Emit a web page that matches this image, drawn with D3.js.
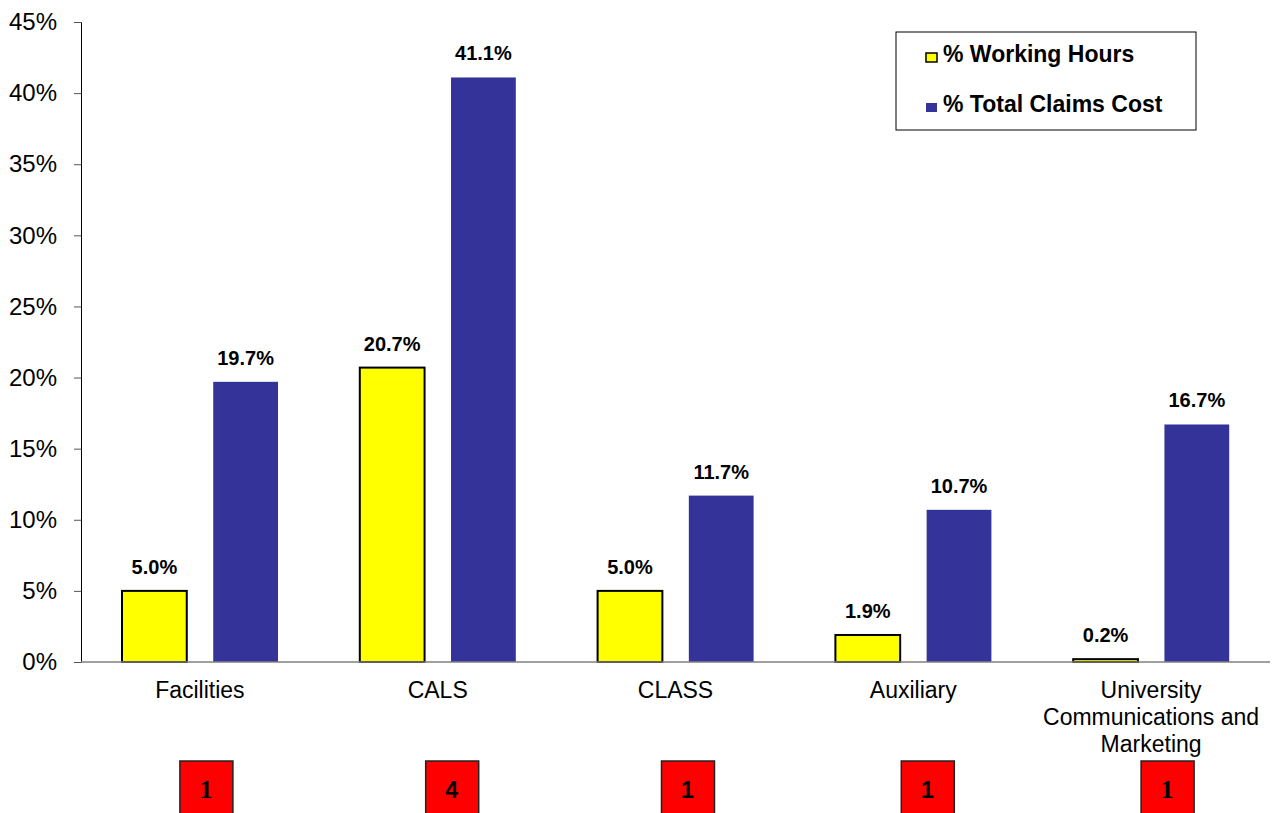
<!DOCTYPE html>
<html>
<head>
<meta charset="utf-8">
<script src="https://cdn.jsdelivr.net/npm/d3@7"></script>
<style>
  body { margin: 0; background: #fff; }
  svg { display: block; font-family: "Liberation Sans", Arial, sans-serif; }
</style>
</head>
<body>
<svg id="chart" width="1273" height="813"></svg>
<script>
// Departments and their shares
const categories = ["Facilities", "CALS", "CLASS", "Auxiliary", "University Communications and Marketing"];
const categoryLines = [["Facilities"], ["CALS"], ["CLASS"], ["Auxiliary"], ["University", "Communications and", "Marketing"]];
const workingHours = [5.0, 20.7, 5.0, 1.9, 0.2];
const claimsCost = [19.7, 41.1, 11.7, 10.7, 16.7];
const claimCounts = ["1", "4", "1", "1", "1"];
const countFonts = ["serif", "sans", "sans", "sans", "serif"];
const seriesNames = ["% Working Hours", "% Total Claims Cost"];
const yTicks = [0, 5, 10, 15, 20, 25, 30, 35, 40, 45];

const svg = d3.select("#chart");
const plotLeft = 81, plotRight = 1270, plotTop = 22, plotBottom = 662;

const x = d3.scaleBand().domain(categories).range([plotLeft, plotRight]);
const y = d3.scaleLinear().domain([0, 45]).range([plotBottom, plotTop]);
const inner = d3.scaleBand().domain([0, 1])
  .range([41, 197]).paddingInner(0.29);

// Y axis
const yAxis = d3.axisLeft(y).tickValues(yTicks).tickFormat(d => d + "%").tickSizeOuter(0).tickSize(7);
const yg = svg.append("g").attr("transform", `translate(${plotLeft},0)`).call(yAxis);
yg.select(".domain").attr("stroke", "#000").attr("stroke-width", 1);
yg.selectAll(".tick line").attr("stroke", "#555");
yg.selectAll(".tick text").attr("font-size", 24).attr("fill", "#000").attr("x", -24)
  .attr("font-family", "Liberation Sans, Arial, sans-serif");

// Bars
const groups = svg.append("g").selectAll("g").data(categories).join("g")
  .attr("transform", d => `translate(${x(d)},0)`);

groups.append("rect")
  .attr("x", inner(0))
  .attr("width", inner.bandwidth())
  .attr("y", (d, i) => y(workingHours[i]))
  .attr("height", (d, i) => y(0) - y(workingHours[i]))
  .attr("fill", "#ffff00").attr("stroke", "#000").attr("stroke-width", 2);

groups.append("rect")
  .attr("x", inner(1))
  .attr("width", inner.bandwidth())
  .attr("y", (d, i) => y(claimsCost[i]))
  .attr("height", (d, i) => y(0) - y(claimsCost[i]))
  .attr("fill", "#333399");

// Value labels
groups.append("text")
  .attr("x", inner(0) + inner.bandwidth() / 2)
  .attr("y", (d, i) => y(workingHours[i]) - 17)
  .attr("text-anchor", "middle").attr("font-size", 20).attr("font-weight", "bold")
  .text((d, i) => workingHours[i].toFixed(1) + "%");

groups.append("text")
  .attr("x", inner(1) + inner.bandwidth() / 2)
  .attr("y", (d, i) => y(claimsCost[i]) - 17)
  .attr("text-anchor", "middle").attr("font-size", 20).attr("font-weight", "bold")
  .text((d, i) => claimsCost[i].toFixed(1) + "%");

// X axis baseline
svg.append("line").attr("x1", plotLeft).attr("x2", plotRight).attr("y1", y(0)).attr("y2", y(0))
  .attr("stroke", "#808080").attr("stroke-width", 1.5);

// Category labels
groups.append("text")
  .attr("text-anchor", "middle").attr("font-size", 23).attr("fill", "#000")
  .selectAll("tspan").data((d, i) => categoryLines[i]).join("tspan")
  .attr("x", x.bandwidth() / 2)
  .attr("y", (d, j) => 698 + j * 27)
  .text(d => d);

// Claim count boxes
const boxOffset = [6, 14, 12, 14, 16];
groups.append("rect")
  .attr("x", (d, i) => x.bandwidth() / 2 + boxOffset[i] - 26)
  .attr("y", 761).attr("width", 53).attr("height", 60)
  .attr("fill", "#ff0000").attr("stroke", "#222").attr("stroke-width", 1.5);

groups.append("text")
  .attr("x", (d, i) => x.bandwidth() / 2 + boxOffset[i])
  .attr("y", 798)
  .attr("text-anchor", "middle")
  .attr("font-size", (d, i) => countFonts[i] === "serif" ? 26 : 23)
  .attr("font-weight", "bold")
  .attr("font-family", (d, i) => countFonts[i] === "serif" ? "Liberation Serif, Times New Roman, serif" : "Liberation Sans, Arial, sans-serif")
  .text((d, i) => claimCounts[i]);

// Legend
const legend = svg.append("g");
legend.append("rect").attr("x", 896).attr("y", 32).attr("width", 300).attr("height", 98)
  .attr("fill", "#fff").attr("stroke", "#000").attr("stroke-width", 1);
const swatchFill = ["#ffff00", "#333399"];
seriesNames.forEach((name, i) => {
  const base = 62 + i * 50;
  legend.append("rect").attr("x", 926).attr("y", base - 9).attr("width", 11).attr("height", 9)
    .attr("fill", swatchFill[i])
    .attr("stroke", i === 0 ? "#000" : "none").attr("stroke-width", 1.5);
  legend.append("text").attr("x", 943).attr("y", base)
    .attr("font-size", 23).attr("font-weight", "bold").text(name);
});
</script>
</body>
</html>
